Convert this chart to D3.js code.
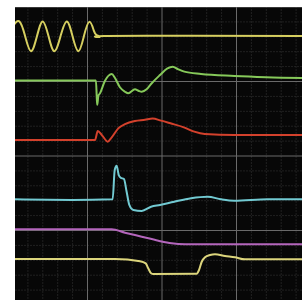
<!DOCTYPE html>
<html>
<head>
<meta charset="utf-8">
<script src="https://d3js.org/d3.v7.min.js"></script>
<style>
  body { margin: 0; background: #fff; }
  .minor line { stroke: #3a3a3a; stroke-dasharray: 1,2; }
  .major line { stroke: #6a6a6a; }
  .grid path { display: none; }
  .grid text { display: none; }
  .trace { fill: none; stroke-width: 2; stroke-linejoin: round; stroke-linecap: round; }
</style>
</head>
<body>
<script>
// units: minor grid divisions (5 per major)
var majorTicks = [0, 5, 10, 15, 20];
var minorTicks = [1, 2, 3, 4, 6, 7, 8, 9, 11, 12, 13, 14, 16, 17, 18, 19];

var ch1 = [[0.0, 1.35], [0.46, 1.0], [0.85, 2.0], [1.24, 3.0], [1.64, 2.0], [2.03, 1.0], [2.42, 2.0],
  [2.81, 3.0], [3.22, 2.0], [3.64, 1.0], [4.03, 2.0], [4.42, 3.0], [4.79, 2.0], [5.15, 1.03],
  [5.45, 1.6], [5.65, 1.92], [5.8, 2.05], [6.1, 1.98], [12, 1.97], [20, 1.98]];

var ch2 = [[0, 4.97], [5.6, 4.97], [5.66, 6.2], [5.69, 6.6], [5.76, 6.0], [5.87, 5.83], [6.2, 5.0],
  [6.66, 4.53], [6.88, 4.8], [7.21, 5.42], [7.55, 5.72], [7.77, 5.83], [8.22, 5.56], [8.45, 5.65],
  [8.67, 5.72], [9.0, 5.56], [9.3, 5.2], [9.9, 4.6], [10.4, 4.15], [10.75, 4.04], [11.1, 4.2],
  [11.53, 4.37], [12.65, 4.53], [14.89, 4.66], [17, 4.74], [20, 4.8]];

var ch3 = [[0, 8.96], [5.54, 8.96], [5.72, 8.36], [5.99, 8.62], [6.39, 9.07], [6.66, 8.78],
  [7.1, 8.18], [7.55, 7.89], [8.22, 7.68], [8.89, 7.6], [9.4, 7.52], [9.97, 7.66], [10.6, 7.84],
  [11.5, 8.11], [12.2, 8.4], [12.9, 8.56], [14.9, 8.63], [20, 8.63]];

var ch4 = [[0, 12.94], [4, 12.98], [6.72, 12.94], [6.86, 10.97], [6.99, 10.68], [7.13, 11.31],
  [7.26, 11.49], [7.48, 11.58], [7.66, 12.43], [7.84, 13.32], [8.11, 13.66], [8.67, 13.72],
  [9.3, 13.44], [9.9, 13.32], [10.86, 13.1], [11.98, 12.87], [13.1, 12.77], [14.0, 12.94],
  [14.89, 13.03], [17.13, 12.94], [20, 12.94]];

var ch5 = [[0, 14.95], [6.66, 14.95], [7.55, 15.18], [8.67, 15.45], [9.79, 15.72], [10.68, 15.89],
  [11.58, 15.95], [20, 15.96]];

var ch6 = [[0, 16.95], [6.88, 16.95], [8.56, 17.1], [8.94, 17.24], [9.11, 17.57], [9.3, 17.9],
  [9.45, 17.95], [12.36, 17.93], [12.52, 17.68], [12.7, 17.13], [12.92, 16.83], [13.26, 16.68],
  [13.59, 16.63], [14.26, 16.74], [14.93, 16.83], [15.6, 16.97], [20, 16.97]];

var traces = [
  {data: ch1, color: "#d6cf60", curve: d3.curveNatural},
  {data: ch2, color: "#86c95a", curve: d3.curveMonotoneX},
  {data: ch3, color: "#d3412c", curve: d3.curveMonotoneX},
  {data: ch4, color: "#72cad2", curve: d3.curveMonotoneX},
  {data: ch5, color: "#b466bc", curve: d3.curveMonotoneX},
  {data: ch6, color: "#dcd57c", curve: d3.curveMonotoneX}
];

var W = 302, H = 300;
var plot = {left: 15, top: 7, right: 302, bottom: 300};

var x = d3.scaleLinear().domain([0, 20]).range([12.5, 310.5]);
var y = d3.scaleLinear().domain([0, 20]).range([6.5, 304.5]);

var svg = d3.select("body").append("svg")
  .attr("width", W).attr("height", H);

svg.append("defs").append("clipPath").attr("id", "clip")
  .append("rect")
  .attr("x", plot.left).attr("y", plot.top)
  .attr("width", plot.right - plot.left).attr("height", plot.bottom - plot.top);

svg.append("rect")
  .attr("x", plot.left).attr("y", plot.top)
  .attr("width", plot.right - plot.left).attr("height", plot.bottom - plot.top)
  .attr("fill", "#070707");

var g = svg.append("g").attr("clip-path", "url(#clip)");

function grid(ticks, cls) {
  g.append("g").attr("class", "grid " + cls)
    .attr("transform", "translate(0," + y(20) + ")")
    .call(d3.axisBottom(x).tickValues(ticks).tickSize(y(0) - y(20)).tickFormat(""));
  g.append("g").attr("class", "grid " + cls)
    .attr("transform", "translate(" + x(0) + ",0)")
    .call(d3.axisLeft(y).tickValues(ticks).tickSize(x(0) - x(20)).tickFormat(""));
}
grid(minorTicks, "minor");
grid(majorTicks, "major");

g.selectAll("path.trace")
  .data(traces)
  .enter().append("path")
  .attr("class", "trace")
  .attr("stroke", function(d) { return d.color; })
  .attr("d", function(d) {
    return d3.line()
      .x(function(p) { return x(p[0]); })
      .y(function(p) { return y(p[1]); })
      .curve(d.curve)(d.data);
  });
</script>
</body>
</html>
